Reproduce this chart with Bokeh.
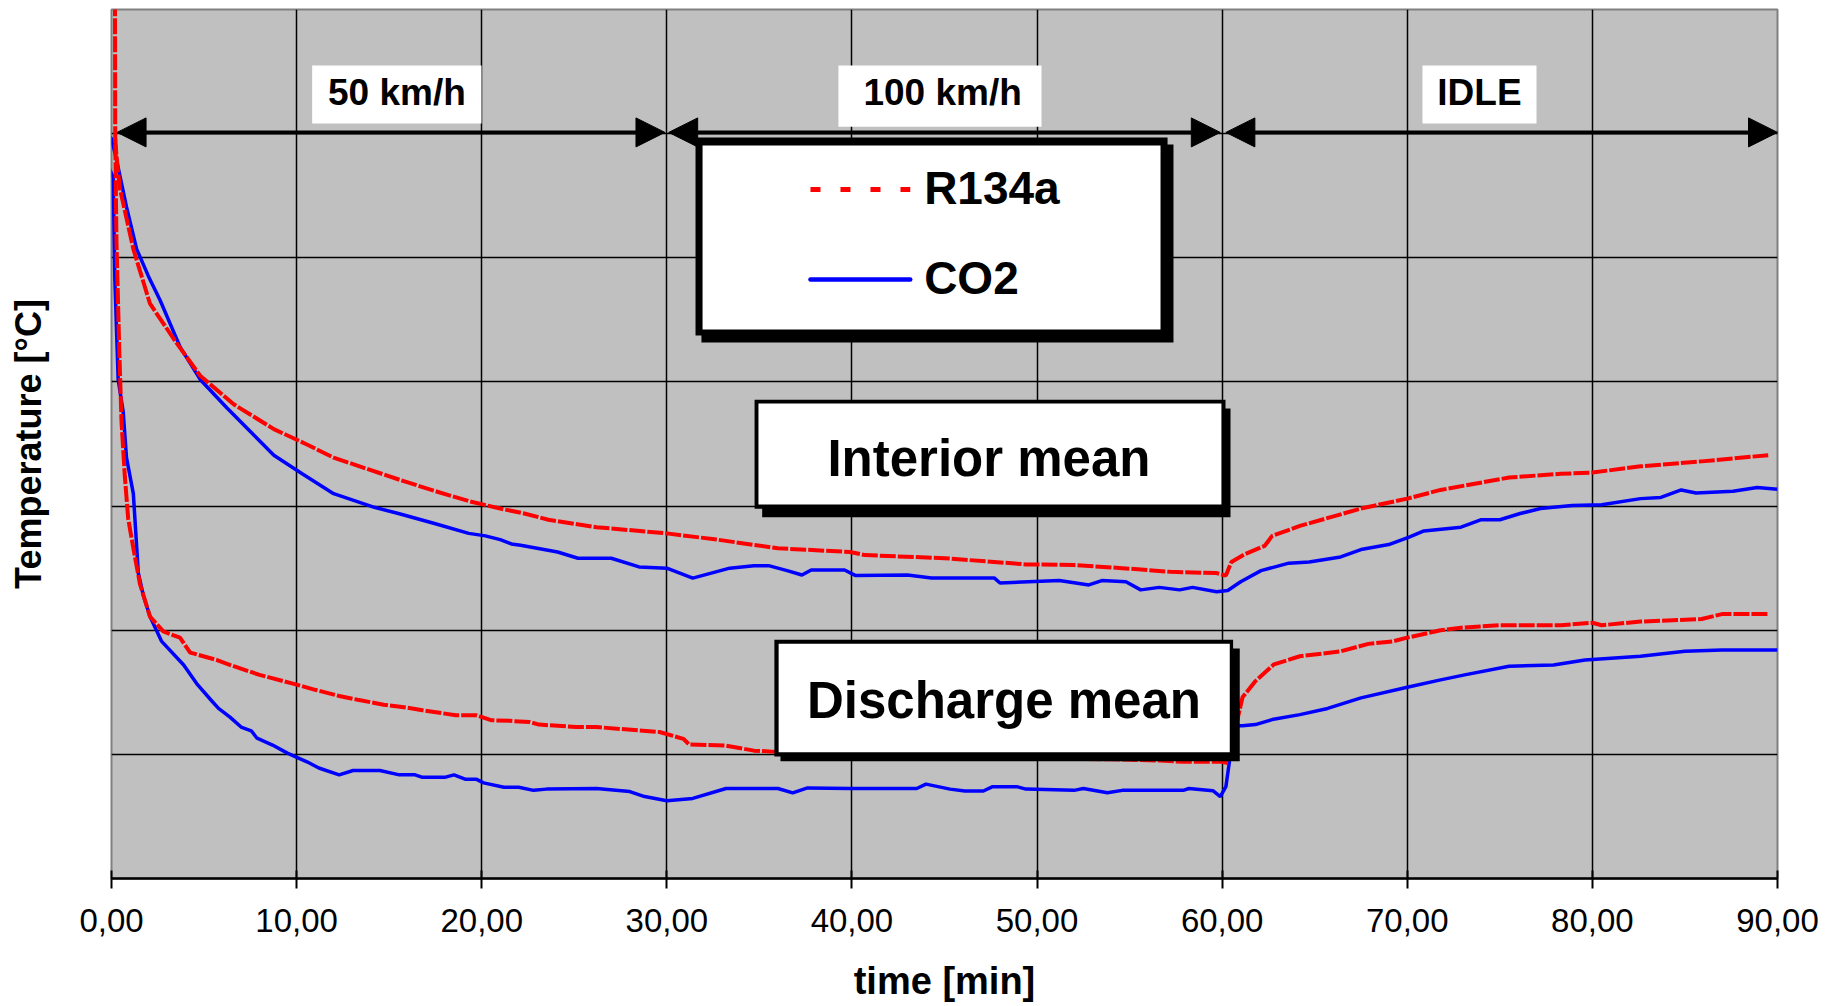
from bokeh.plotting import figure
from bokeh.models import Range1d, FixedTicker, Arrow, NormalHead
from bokeh.core.properties import value
from bokeh.embed import file_html
from bokeh.resources import INLINE

# ---------------- data (time in min, temperature) ----------------
x_ticks = [0, 10, 20, 30, 40, 50, 60, 70, 80, 90]
x_tick_labels = ["0,00", "10,00", "20,00", "30,00", "40,00", "50,00", "60,00", "70,00", "80,00", "90,00"]

phases = ["50 km/h", "100 km/h", "IDLE"]
phase_start = [0, 30, 60]
phase_end = [30, 60, 90]

series_names = ["R134a", "CO2"]

int_r134a_t = [0.20, 0.27, 0.45, 1.18, 2.08, 3.53, 4.79, 6.60, 8.77, 10.5, 12.0, 13.8, 15.6, 17.5, 19.3,
               21.0, 22.3, 23.6, 26.2, 30.0, 32.7, 36.0, 39.9, 40.7, 45.0, 49.4, 52.0, 54.6, 57.2, 59.7,
               60.2, 60.5, 61.2, 62.3, 62.7, 64.2, 67.5, 70.0, 71.8, 75.5, 78.3, 80.0, 82.6, 85.9, 89.5]
int_r134a_v = [59.6, 58.2, 55.6, 50.7, 46.3, 43.1, 40.5, 38.2, 36.2, 35.0, 33.9, 33.0, 32.1, 31.2, 30.4,
               29.8, 29.4, 28.9, 28.3, 27.8, 27.3, 26.6, 26.3, 26.05, 25.8, 25.3, 25.25, 25.0, 24.7, 24.6,
               24.4, 25.5, 26.1, 26.8, 27.6, 28.4, 29.8, 30.6, 31.3, 32.3, 32.6, 32.7, 33.2, 33.6, 34.1]

int_co2_t = [-0.3, 0.0, 0.27, 0.81, 1.36, 2.0, 2.62, 3.71, 4.79, 6.24, 7.5, 8.77, 10.3, 12.0, 14.2, 15.5,
             17.45, 19.3, 20.2, 21.0, 21.6, 22.1, 24.1, 25.2, 27.0, 28.5, 30.0, 31.4, 33.4, 34.7, 35.5,
             36.5, 37.3, 37.8, 39.6, 40.2, 43.0, 44.3, 47.7, 48.0, 51.2, 52.8, 53.5, 54.8, 55.6, 56.6,
             57.7, 58.4, 59.7, 60.3, 61.0, 62.1, 63.6, 64.7, 66.4, 67.5, 69.0, 70.1, 70.9, 72.9, 74.0,
             75.0, 76.1, 77.2, 78.9, 80.5, 82.6, 83.7, 84.8, 85.6, 87.6, 88.9, 90.0]
int_co2_v = [60.0, 59.6, 57.9, 54.1, 50.7, 48.5, 46.6, 42.8, 40.2, 37.9, 36.0, 34.1, 32.6, 31.0, 29.9, 29.4,
             28.6, 27.8, 27.6, 27.3, 26.95, 26.85, 26.3, 25.8, 25.8, 25.1, 25.0, 24.2, 25.0, 25.2, 25.2,
             24.8, 24.45, 24.85, 24.85, 24.4, 24.45, 24.2, 24.2, 23.8, 24.0, 23.65, 24.0, 23.9, 23.25, 23.45,
             23.25, 23.45, 23.1, 23.2, 23.9, 24.8, 25.4, 25.5, 25.9, 26.5, 26.9, 27.5, 28.0, 28.3, 28.9,
             28.9, 29.4, 29.8, 30.05, 30.1, 30.6, 30.7, 31.3, 31.05, 31.2, 31.5, 31.35]

dis_r134a_t = [0.18, 0.20, 0.27, 0.42, 0.54, 0.72, 0.9, 1.18, 1.54, 2.08, 2.8, 3.7, 4.25, 5.7, 6.6, 8.0,
               9.8, 11.0, 12.3, 13.3, 14.7, 15.8, 16.8, 18.6, 19.7, 20.5, 21.5, 22.6, 23.1, 25.1, 26.2,
               29.6, 30.9, 31.2, 33.2, 34.7, 35.9, 40.0, 45.0, 50.0, 54.0, 56.6, 57.9, 60.0, 60.3, 60.7,
               61.1, 61.8, 62.8, 64.2, 66.4, 67.9, 69.2, 70.0, 71.8, 72.9, 75.0, 78.3, 80.0, 80.5, 82.6,
               85.9, 87.0, 89.5]
dis_r134a_v = [78.0, 59.9, 51.2, 42.6, 36.8, 32.4, 29.0, 26.6, 23.7, 21.1, 19.9, 19.4, 18.2, 17.6, 17.1, 16.4,
               15.7, 15.2, 14.7, 14.4, 14.0, 13.8, 13.55, 13.15, 13.15, 12.75, 12.7, 12.6, 12.4, 12.2, 12.2,
               11.8, 11.25, 10.8, 10.7, 10.3, 10.2, 10.0, 9.8, 9.7, 9.6, 9.5, 9.4, 9.4, 9.3, 12.0,
               14.6, 15.9, 17.25, 17.9, 18.3, 18.9, 19.1, 19.4, 20.0, 20.2, 20.4, 20.4, 20.6, 20.4, 20.7,
               20.9, 21.3, 21.3]

dis_co2_t = [-0.3, 0.09, 0.18, 0.36, 0.63, 0.81, 1.18, 1.45, 1.72, 2.08, 2.71, 3.9, 4.6, 5.36, 5.78, 6.4,
             7.0, 7.55, 7.86, 8.7, 9.5, 10.56, 11.2, 12.3, 13.05, 14.5, 15.55, 16.4, 16.8, 18.0, 18.5,
             19.1, 19.7, 20.1, 21.2, 22.0, 22.8, 23.5, 26.2, 28.0, 28.8, 30.0, 31.4, 33.2, 36.0, 36.8,
             37.6, 39.9, 43.5, 44.0, 45.3, 46.1, 47.1, 47.6, 48.9, 49.4, 52.0, 52.5, 53.8, 54.6, 57.9,
             58.2, 59.5, 59.9, 60.2, 60.4, 60.5, 61.1, 61.8, 62.7, 64.2, 65.7, 67.5, 70.0, 71.8, 73.1,
             75.5, 77.9, 79.6, 82.6, 85.0, 87.0, 90.0]
dis_co2_v = [57.8, 56.5, 48.3, 40.2, 37.6, 33.9, 31.0, 24.6, 22.8, 21.1, 19.1, 17.2, 15.7, 14.4, 13.7, 13.0,
             12.2, 11.9, 11.3, 10.75, 10.1, 9.4, 8.9, 8.35, 8.7, 8.7, 8.35, 8.35, 8.15, 8.15, 8.35,
             8.0, 8.0, 7.7, 7.35, 7.35, 7.1, 7.2, 7.25, 7.0, 6.6, 6.27, 6.45, 7.25, 7.25, 6.9,
             7.3, 7.25, 7.25, 7.6, 7.2, 7.05, 7.05, 7.4, 7.4, 7.2, 7.1, 7.25, 6.9, 7.1, 7.1,
             7.25, 7.07, 6.6, 7.4, 9.5, 12.3, 12.3, 12.4, 12.8, 13.2, 13.7, 14.55, 15.4, 16.0, 16.4,
             17.1, 17.2, 17.6, 17.9, 18.3, 18.4, 18.4]

# ---------------- figure ----------------
FONT = value("Liberation Sans")
RED = "#FF0000"
BLUE = "#0000FF"

p = figure(width=1822, height=1006, output_backend="svg", toolbar_location=None,
           x_range=Range1d(0, 90), y_range=Range1d(0, 70),
           min_border_left=111, min_border_right=45, min_border_top=9, min_border_bottom=128)
p.background_fill_color = "#C0C0C0"
p.border_fill_color = "white"
p.outline_line_color = "#808080"
p.outline_line_width = 2

# grid
p.xgrid.ticker = FixedTicker(ticks=x_ticks[1:-1])
p.ygrid.ticker = FixedTicker(ticks=[10, 20, 30, 40, 50, 60])
for g in (p.xgrid, p.ygrid):
    g.grid_line_color = "black"
    g.grid_line_width = 1.5

# x axis
xa = p.xaxis[0]
xa.ticker = FixedTicker(ticks=x_ticks)
xa.major_label_overrides = {t: s for t, s in zip(x_ticks, x_tick_labels)}
xa.axis_line_color = "black"
xa.axis_line_width = 2.5
xa.major_tick_line_color = "black"
xa.major_tick_line_width = 2
xa.major_tick_in = 8
xa.major_tick_out = 10
xa.minor_tick_line_color = None
xa.major_label_text_font = "Liberation Sans"
xa.major_label_text_font_size = "33px"
xa.major_label_text_color = "black"
xa.major_label_standoff = 20
xa.axis_label = "time [min]"
xa.axis_label_text_font = "Liberation Sans"
xa.axis_label_text_font_style = "bold"
xa.axis_label_text_font_size = "38px"
xa.axis_label_text_color = "black"
xa.axis_label_standoff = 25

# y axis (no tick labels)
ya = p.yaxis[0]
ya.ticker = FixedTicker(ticks=[])
ya.axis_line_color = None
ya.major_tick_line_color = None
ya.minor_tick_line_color = None
ya.major_tick_out = 0
ya.major_tick_in = 0
ya.major_label_text_font_size = "0px"
ya.axis_label = "Temperature [°C]"
ya.axis_label_text_font = "Liberation Sans"
ya.axis_label_text_font_style = "bold"
ya.axis_label_text_font_size = "36px"
ya.axis_label_text_color = "black"
ya.axis_label_standoff = 63

# data lines
p.line(int_co2_t, int_co2_v, line_color=BLUE, line_width=3.5)
p.line(dis_co2_t, dis_co2_v, line_color=BLUE, line_width=3.5)
p.line(int_r134a_t, int_r134a_v, line_color=RED, line_width=4, line_dash="16 2")
p.line(dis_r134a_t, dis_r134a_v, line_color=RED, line_width=4, line_dash="16 2")

# phase arrows
head = dict(size=29, fill_color="black", line_color="black", line_width=1)
arrow_y = 60.1
gaps = [(0.3, -0.1), (0.1, -0.1), (0.2, 0.0)]
for s, e, (gs, ge) in zip(phase_start, phase_end, gaps):
    p.add_layout(Arrow(start=NormalHead(**head), end=NormalHead(**head),
                       x_start=s + gs, y_start=arrow_y, x_end=e + ge, y_end=arrow_y,
                       line_color="black", line_width=4))

# phase labels on white boxes
lab_left = [10.84, 39.27, 70.82]
lab_right = [19.99, 50.24, 76.98]
lab_top = [65.49, 65.49, 65.49]
lab_bot = [60.82, 60.55, 60.82]
lab_x = [15.42, 44.9, 73.9]
p.quad(left=lab_left, right=lab_right, top=lab_top, bottom=lab_bot, fill_color="white", line_color=None)
p.text(x=lab_x, y=[63.3] * 3, text=phases, text_font=FONT, text_font_style="bold",
       text_font_size="37px", text_align="center", text_baseline="alphabetic", text_color="black")

# legend box (border + shadow)
p.quad(left=[31.87], right=[57.37], top=[59.13], bottom=[43.18], fill_color="black", line_color=None)
p.quad(left=[31.55], right=[57.05], top=[59.69], bottom=[43.74], fill_color="black", line_color=None)
p.quad(left=[31.93], right=[56.67], top=[59.05], bottom=[44.22], fill_color="white", line_color=None)
p.line([37.76, 43.15], [55.5, 55.5], line_color=RED, line_width=5, line_dash="10 20")
p.line([37.76, 43.15], [48.25, 48.25], line_color=BLUE, line_width=4.5, line_cap="round")
p.text(x=[43.9, 43.9], y=[55.6, 48.35], text=series_names, text_font=FONT, text_font_style="bold",
       text_font_size="46px", text_align="left", text_baseline="alphabetic", text_color="black")

# "Interior mean" box
p.quad(left=[35.15], right=[60.45], top=[37.86], bottom=[29.10], fill_color="black", line_color=None)
p.quad(left=[34.74], right=[60.18], top=[38.56], bottom=[29.78], fill_color="black", line_color=None)
p.quad(left=[34.95], right=[59.96], top=[38.26], bottom=[30.13], fill_color="white", line_color=None)
p.text(x=[47.4], y=[33.85], text=["Interior mean"], text_font=FONT, text_font_style="bold",
       text_font_size="51px", text_align="center", text_baseline="alphabetic", text_color="black")

# "Discharge mean" box
p.quad(left=[36.14], right=[60.95], top=[18.53], bottom=[9.45], fill_color="black", line_color=None)
p.quad(left=[35.81], right=[60.59], top=[19.23], bottom=[9.83], fill_color="black", line_color=None)
p.quad(left=[36.04], right=[60.41], top=[18.91], bottom=[10.17], fill_color="white", line_color=None)
p.text(x=[48.21], y=[14.35], text=["Discharge mean"], text_font=FONT, text_font_style="bold",
       text_font_size="51px", text_align="center", text_baseline="alphabetic", text_color="black")

open("out.html", "w").write(file_html(p, INLINE))
